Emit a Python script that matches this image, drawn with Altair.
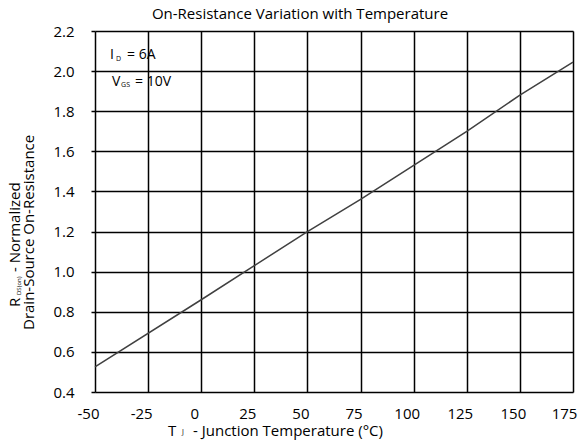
import altair as alt
import pandas as pd

FONT = "Open Sans"

# ---- data ----
temps = [-50, 0, 25, 50, 75, 100, 125, 150, 175]
rds_norm = [0.525, 0.86, 1.03, 1.20, 1.36, 1.53, 1.70, 1.88, 2.045]
x_ticks = [-50, -25, 0, 25, 50, 75, 100, 125, 150, 175]
y_ticks = [0.4, 0.6, 0.8, 1.0, 1.2, 1.4, 1.6, 1.8, 2.0, 2.2]

chart_title = "On-Resistance Variation with Temperature"
x_title_main = "T"
x_title_sub = "J"
x_title_rest = "- Junction Temperature (°C)"
y_title1_main = "R"
y_title1_sub = "DS(on)"
y_title1_rest = "- Normalized"
y_title2 = "Drain-Source On-Resistance"
ann_id = ["I", "D", "= 6A"]
ann_vgs = ["V", "GS", "= 10V"]
ann_x = -42.9
ann_y = [2.06, 1.926]

df = pd.DataFrame({"t": temps, "r": rds_norm})

W, H = 478, 361
xscale = alt.Scale(domain=[-50, 175], nice=False, zero=False)
yscale = alt.Scale(domain=[0.4, 2.2], nice=False, zero=False)

line = alt.Chart(df).mark_line(color="#404040", strokeWidth=1.5).encode(
    x=alt.X("t:Q", scale=xscale, axis=alt.Axis(
        values=x_ticks, title=None, grid=True, gridColor="black", gridWidth=1.5,
        gridOpacity=1, ticks=False, domain=False, labelFont=FONT, labelFontSize=15,
        labelColor="black", labelPadding=14,
        labelOffset={"condition": {"test": "datum.value == 175", "value": -9}, "value": -7},
        labelExpr="'' + datum.value", labelFlush=False, labelOverlap=False)),
    y=alt.Y("r:Q", scale=yscale, axis=alt.Axis(
        values=y_ticks, format=".1f", title=None, grid=True, gridColor="black",
        gridWidth=1.5, gridOpacity=1, ticks=True, tickSize=4, tickColor="black",
        tickWidth=1.5, domain=False, labelFont=FONT, labelFontSize=15,
        labelColor="black", labelPadding=17, labelFlush=False, labelOverlap=False)),
)


def txt(text, x, y, size, dx=0, dy=0, angle=0, align="left"):
    d = pd.DataFrame({"s": [text]})
    kw = dict(font=FONT, fontSize=size, color="black", align=align,
              baseline="alphabetic", dx=dx, dy=dy)
    if angle:
        kw["angle"] = angle
    return alt.Chart(d).mark_text(**kw).encode(x=x, y=y, text="s:N")


layers = [line]

# annotations inside the plot (data coordinates)
for pieces, yv, dxs, dys in [
    (ann_id, ann_y[0], [0, 6, 17], [0, 2, 0]),
    (ann_vgs, ann_y[1], [2, 11, 25], [0, 1, 0]),
]:
    for p, dx, dy in zip(pieces, dxs, dys):
        size = 7 if dy else 14
        layers.append(txt(p, alt.datum(ann_x), alt.datum(yv), size, dx=dx, dy=dy))

# chart title
layers.append(txt(chart_title, alt.value(205), alt.value(-12), 15, align="center"))

# x axis title with subscript
layers.append(txt(x_title_main, alt.value(73), alt.value(405), 15))
layers.append(txt(x_title_sub, alt.value(87), alt.value(403), 7))
layers.append(txt(x_title_rest, alt.value(98), alt.value(405), 15))

# y axis title (rotated) with subscript
layers.append(txt(y_title1_main, alt.value(-75), alt.value(276), 15, angle=270))
layers.append(txt(y_title1_sub, alt.value(-74), alt.value(264), 6, angle=270))
layers.append(txt(y_title1_rest, alt.value(-75), alt.value(241), 15, angle=270))
layers.append(txt(y_title2, alt.value(-61), alt.value(299), 15, angle=270))

chart = alt.layer(*layers).properties(
    width=W, height=H,
    autosize=alt.AutoSizeParams(type="none"),
    padding={"left": 87, "top": 23, "right": 5, "bottom": 48},
).configure_view(stroke="black", strokeWidth=1.5).configure(background="white")

chart.save("out.html", embed_options={"renderer": "svg", "actions": False})
